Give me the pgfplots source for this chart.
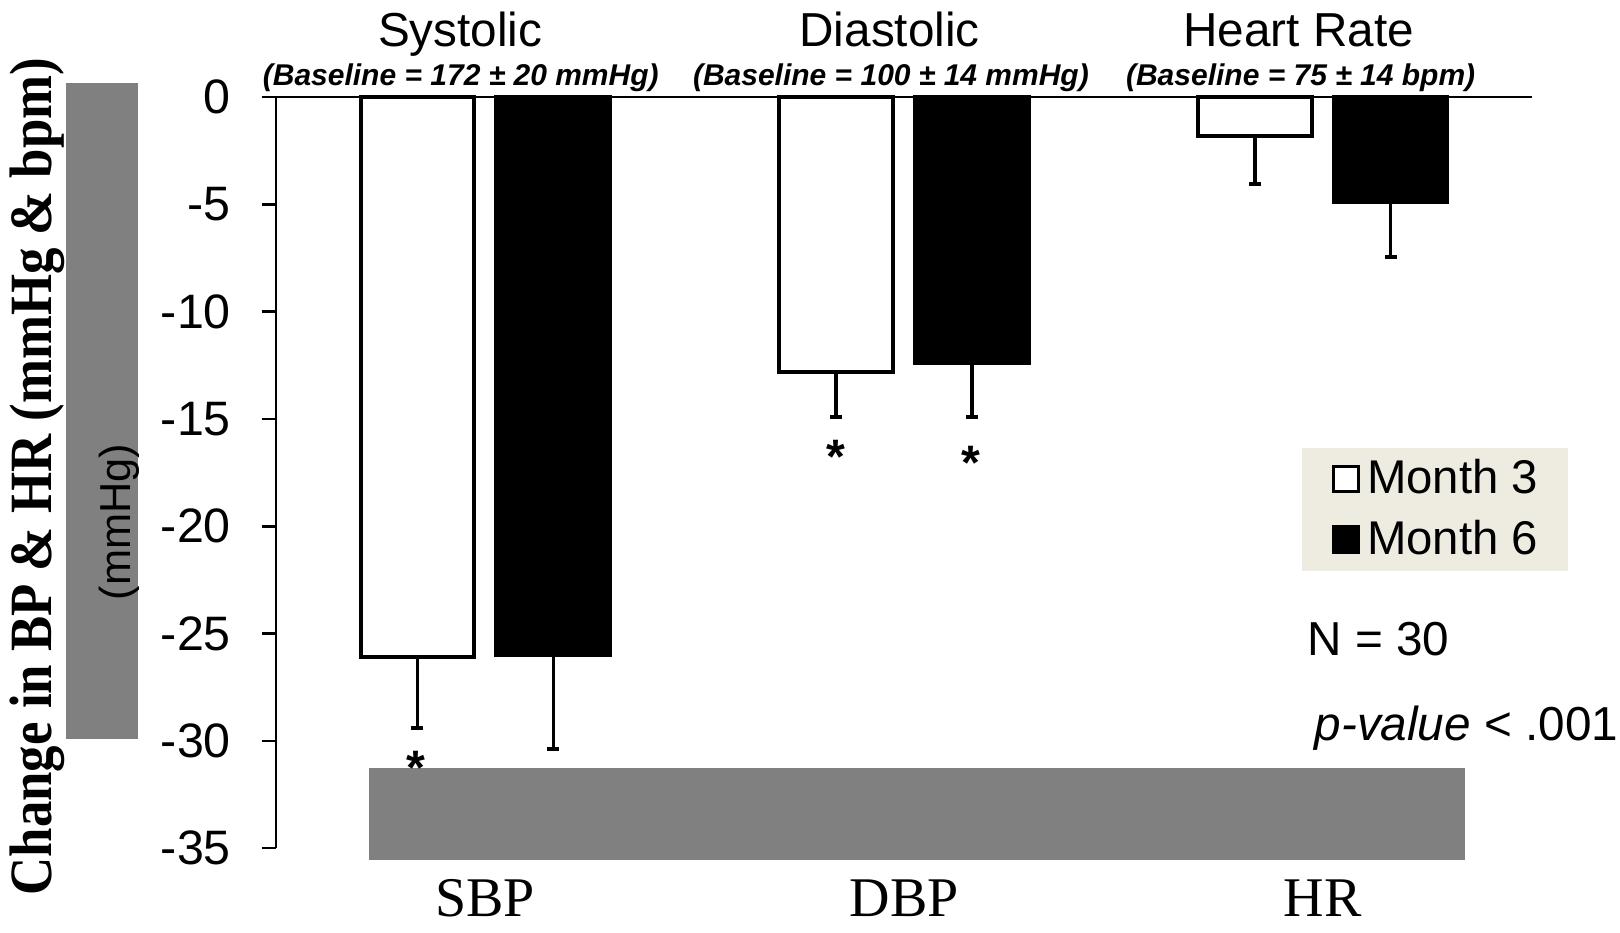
\documentclass[border=0pt]{standalone}
\usepackage{pgfplots}
\pgfplotsset{compat=1.18}
\usepackage{fontspec}
\setmainfont{Liberation Sans}
\newfontfamily\serif{Liberation Serif}
\definecolor{legbg}{RGB}{238,236,225}
\definecolor{boxgray}{RGB}{128,128,128}
\begin{document}
\begin{tikzpicture}
\useasboundingbox (-82.77pt,-25.44pt) rectangle (403.23pt,254.46pt);
\begin{axis}[
  at={(0pt,0pt)}, anchor=south west,
  scale only axis, width=376.89pt, height=225.33pt,
  xmin=-0.5, xmax=2.5, ymin=-35, ymax=0,
  clip=false,
  axis y line=left, axis x line=bottom,
  axis line style={-, line width=0.75pt, black},
  x axis line style={draw=none},
  xtick={0,1,2}, xticklabels={SBP,DBP,HR},
  xtick style={draw=none},
  xticklabel style={font=\serif\fontsize{16.8}{20}\selectfont, anchor=base, inner sep=0pt, yshift=-16.3pt},
  ytick={-35,-30,...,0},
  ytick style={line width=0.75pt, black},
  tick align=outside, major tick length=4.3pt,
  yticklabel style={font=\fontsize{14.5}{17}\selectfont, xshift=-5.7pt},
  /pgf/number format/assume math mode=true,
  ybar=6.7pt, bar width=34.05pt,
  legend style={at={(0.8166,0.5337)}, anchor=north west, fill=legbg, draw=none,
    inner xsep=7pt, inner ysep=1.45pt, row sep=2.3pt,
    font=\fontsize{14.2}{17}\selectfont, cells={anchor=west}},
]
\addplot[fill=white, draw=black, line width=1.2pt,
  legend image code/.code={\path (0pt,0pt); \draw[fill=white, draw=black, line width=1pt] (1.8pt,-3.75pt) rectangle (9.3pt,3.75pt);},
  error bars/.cd, y dir=minus, y explicit,
  error bar style={line width=1pt, black},
  error mark=|,
  error mark options={line width=1.2pt, mark size=1.8pt, black}]
  coordinates {(0,-26.1) +- (0,3.3) (1,-12.8) +- (0,2.1) (2,-1.8) +- (0,2.25)};
\addplot[fill=black, draw=black, line width=1.2pt,
  legend image code/.code={\path (0pt,0pt); \draw[fill=black, draw=black, line width=1pt] (1.8pt,-3.75pt) rectangle (9.3pt,3.75pt);},
  error bars/.cd, y dir=minus, y explicit,
  error bar style={line width=1pt, black},
  error mark=|,
  error mark options={line width=1.2pt, mark size=1.8pt, black}]
  coordinates {(0,-26.0) +- (0,4.4) (1,-12.4) +- (0,2.5) (2,-4.9) +- (0,2.55)};
\legend{Month 3, Month 6}
\draw[line width=0.75pt] (rel axis cs:0,1) -- (rel axis cs:1,1);
\fill[boxgray] (axis cs:-1.001,0.671) rectangle (axis cs:-0.8283,-29.90);
\fill[boxgray] (axis cs:-0.2782,-31.24) rectangle (axis cs:2.3393,-35.53);
\node[anchor=base, font=\fontsize{14.3}{17}\selectfont] at (axis cs:-0.0597,2.358) {Systolic};
\node[anchor=base, font=\fontsize{14.3}{17}\selectfont] at (axis cs:0.9654,2.358) {Diastolic};
\node[anchor=base, font=\fontsize{14.3}{17}\selectfont] at (axis cs:1.9422,2.358) {Heart Rate};
\node[anchor=base, font=\bfseries\itshape\fontsize{9}{11}\selectfont] at (axis cs:-0.0585,0.531) {(Baseline = 172 ± 20 mmHg)};
\node[anchor=base, font=\bfseries\itshape\fontsize{9}{11}\selectfont] at (axis cs:0.9687,0.531) {(Baseline = 100 ± 14 mmHg)};
\node[anchor=base, font=\bfseries\itshape\fontsize{9}{11}\selectfont] at (axis cs:1.947,0.531) {(Baseline = 75 ± 14 bpm)};
\node[anchor=base, font=\bfseries\fontsize{14.5}{17}\selectfont] at (axis cs:-0.1648,-32.05) {*};
\node[anchor=base, font=\bfseries\fontsize{14.5}{17}\selectfont] at (axis cs:0.8369,-17.55) {*};
\node[anchor=base, font=\bfseries\fontsize{14.5}{17}\selectfont] at (axis cs:1.1602,-17.84) {*};
\node[anchor=base west, inner sep=0pt, font=\fontsize{14.3}{17}\selectfont] at (axis cs:1.9618,-26.04) {N = 30};
\node[anchor=base west, inner sep=0pt, font=\fontsize{14.3}{17}\selectfont] at (axis cs:1.979,-29.99) {{\itshape p-value} < .001};
\node[rotate=90, font=\fontsize{13}{15}\selectfont] at (axis cs:-0.8751,-19.79) {(mmHg)};
\node[rotate=90, font=\serif\bfseries\fontsize{18}{20}\selectfont] at (axis cs:-1.0704,-17.68) {\scalebox{0.88}[1]{Change in BP \& HR (mmHg \& bpm)}};
\end{axis}
\end{tikzpicture}
\end{document}
